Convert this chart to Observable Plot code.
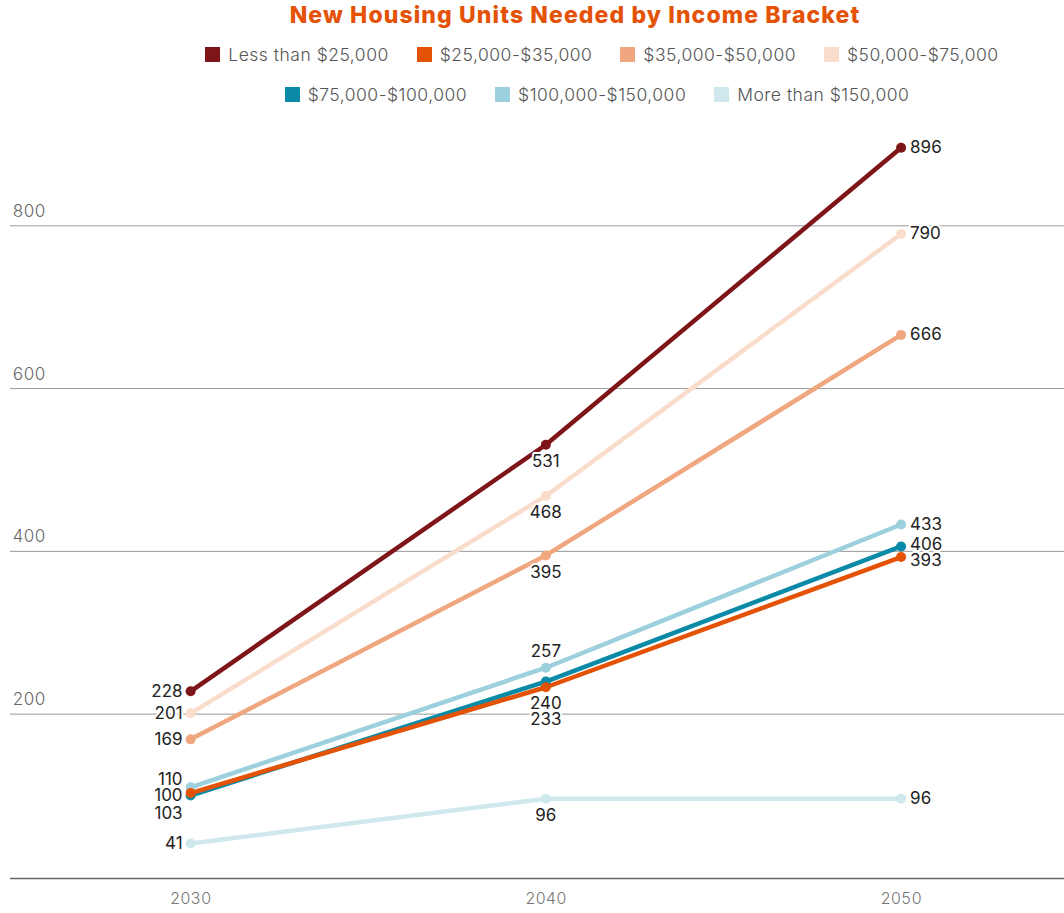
<!DOCTYPE html>
<html>
<head>
<meta charset="utf-8">
<script src="https://cdn.jsdelivr.net/npm/d3@7"></script>
<script src="https://cdn.jsdelivr.net/npm/@observablehq/plot@0.6"></script>
<style>
  html, body { margin: 0; padding: 0; background: #fff; }
  body { width: 1064px; font-family: Inter, "Open Sans", sans-serif; }
  #header { height: 115px; position: relative; }
  #title {
    position: absolute; top: 1px; left: 43px; width: 1064px; text-align: center;
    font-weight: 800; font-size: 23px; color: #e35205; letter-spacing: 1.1px;
  }
  .legend-row {
    position: absolute; width: 1064px; display: flex; justify-content: center;
    gap: 28px; font-size: 17.5px; color: #555; font-weight: 300; letter-spacing: 0.5px;
  }
  .legend-item { display: flex; align-items: center; gap: 8px; }
  .swatch { width: 15px; height: 15px; display: inline-block; }
</style>
</head>
<body>
<div id="header">
  <div id="title">New Housing Units Needed by Income Bracket</div>
  <div class="legend-row" id="legend1" style="top:44px; left:70px"></div>
  <div class="legend-row" id="legend2" style="top:84px; left:65px"></div>
</div>
<div id="chart"></div>
<script>
// Years on the x axis
const years = [2030, 2040, 2050];

// Income brackets, in legend order
const brackets = [
  "Less than $25,000",
  "$25,000-$35,000",
  "$35,000-$50,000",
  "$50,000-$75,000",
  "$75,000-$100,000",
  "$100,000-$150,000",
  "More than $150,000"
];

// New housing units needed, per bracket, for 2030 / 2040 / 2050
const lessThan25k    = [228, 531, 896];
const from25kTo35k   = [103, 233, 393];
const from35kTo50k   = [169, 395, 666];
const from50kTo75k   = [201, 468, 790];
const from75kTo100k  = [100, 240, 406];
const from100kTo150k = [110, 257, 433];
const moreThan150k   = [41, 96, 96];

const yTicks = [200, 400, 600, 800];

const colors = ["#7e1518", "#e35205", "#f0a77f", "#f9dccc", "#0a8aa6", "#9bd0dc", "#cee8ee"];

const seriesValues = [lessThan25k, from25kTo35k, from35kTo50k, from50kTo75k,
                      from75kTo100k, from100kTo150k, moreThan150k];

// Long table: one row per bracket and year
const rows = [];
brackets.forEach((b, i) => {
  years.forEach((yr, j) => rows.push({bracket: b, order: i, year: yr, value: seriesValues[i][j]}));
});

// Draw later brackets first so the earlier ones sit on top
const drawRows = rows.slice().sort((a, b) => b.order - a.order || a.year - b.year);

// Vertical nudges for value labels where lines crowd together
const labelNudge = {
  "$100,000-$150,000|2030": -8,
  "$25,000-$35,000|2030": 20,
  "$100,000-$150,000|2040": -33,
  "$75,000-$100,000|2040": 5,
  "$25,000-$35,000|2040": 15,
  "$75,000-$100,000|2050": -2,
  "$25,000-$35,000|2050": 3
};
const nudge = d => labelNudge[d.bracket + "|" + d.year] ?? 0;

// Label placement per year: left of 2030, under 2040, right of 2050
function labelMark(d) {
  const base = {fontSize: 17, fill: "#222", stroke: "white", strokeWidth: 4, letterSpacing: 0.4};
  const text = String(d.value);
  if (d.year === 2030) {
    return Plot.text([d], {x: "year", y: "value", text: () => text, textAnchor: "end", dx: -8, dy: nudge(d), ...base});
  }
  if (d.year === 2040) {
    return Plot.text([d], {x: "year", y: "value", text: () => text, dy: 17 + nudge(d), ...base});
  }
  return Plot.text([d], {x: "year", y: "value", text: () => text, textAnchor: "start", dx: 9, dy: nudge(d), ...base});
}

// Legend
const legendRows = [brackets.slice(0, 4), brackets.slice(4)];
legendRows.forEach((list, r) => {
  const el = document.getElementById(r === 0 ? "legend1" : "legend2");
  list.forEach(b => {
    const item = document.createElement("div");
    item.className = "legend-item";
    const sw = document.createElement("span");
    sw.className = "swatch";
    sw.style.background = colors[brackets.indexOf(b)];
    const tx = document.createElement("span");
    tx.textContent = b;
    item.append(sw, tx);
    el.append(item);
  });
});

const chart = Plot.plot({
  width: 1064,
  height: 798,
  marginLeft: 10,
  marginRight: 0,
  marginTop: 20,
  marginBottom: 35,
  style: {fontFamily: "Inter, 'Open Sans', sans-serif", background: "white"},
  x: {domain: [2024.93, 2054.6]},
  y: {domain: [-2, 911]},
  color: {domain: brackets, range: colors},
  marks: [
    Plot.ruleY(yTicks, {stroke: "#999", strokeWidth: 1}),
    Plot.axisY(yTicks, {
      anchor: "left", tickSize: 0, tickPadding: -2, textAnchor: "start",
      lineAnchor: "bottom", dy: -9, fontSize: 17, fill: "#666", fontWeight: 300, label: null
    }),
    Plot.ruleY([-2], {stroke: "#666", strokeWidth: 1.3}),
    Plot.axisX(years, {
      tickSize: 0, tickPadding: 14, fontSize: 16, fill: "#777", fontWeight: 300,
      tickFormat: d => String(d), label: null
    }),
    Plot.line(drawRows, {x: "year", y: "value", z: "bracket", stroke: "bracket", strokeWidth: 4.5}),
    Plot.dot(drawRows, {x: "year", y: "value", fill: "bracket", r: 5}),
    ...rows.map(labelMark)
  ]
});
document.getElementById("chart").append(chart);
</script>
</body>
</html>
